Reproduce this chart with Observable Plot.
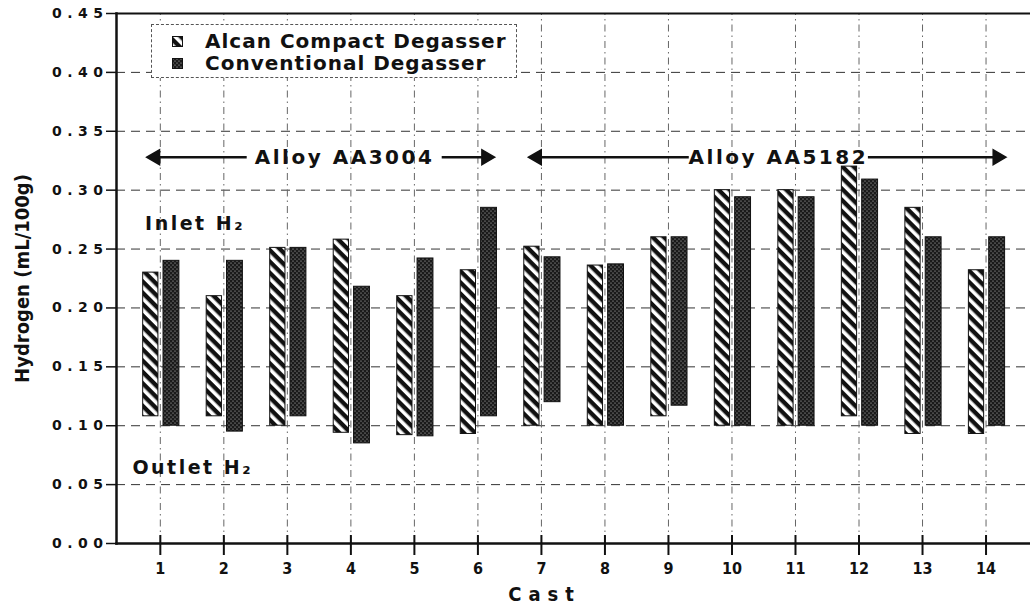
<!DOCTYPE html>
<html><head><meta charset="utf-8">
<script src="https://cdn.jsdelivr.net/npm/d3@7"></script>
<script src="https://cdn.jsdelivr.net/npm/@observablehq/plot@0.6"></script>
<style>
html,body{margin:0;padding:0;background:#fff;}
#wrap{position:relative;width:1030px;height:609px;overflow:hidden;}
#legend{position:absolute;left:151px;top:24px;width:366px;height:54px;background:#fff;border:1px dashed #555;box-sizing:border-box;padding:5px 0 0 20px;font-family:"DejaVu Sans",sans-serif;font-weight:bold;font-size:20px;letter-spacing:1px;color:#111;}
#legend .row{height:22px;line-height:22px;white-space:nowrap;display:flex;align-items:center;}
#legend svg{margin-right:22px;flex:none;}
.ytl text{letter-spacing:5.5px;}
.spaced text{letter-spacing:2.5px;}
.castlab text{letter-spacing:7px;}
</style>
</head><body>
<svg width="0" height="0" style="position:absolute"><defs>
<pattern id="stripes" patternUnits="userSpaceOnUse" width="8" height="8" patternTransform="rotate(45)">
<rect width="8" height="8" fill="#fff"/><rect width="8" height="4.4" fill="#111"/>
</pattern>
<pattern id="dots" patternUnits="userSpaceOnUse" width="4" height="4">
<rect width="4" height="4" fill="#1a1a1a"/><circle cx="1" cy="1" r="0.6" fill="#c8c8c8"/><circle cx="3" cy="3" r="0.6" fill="#c8c8c8"/>
</pattern>
</defs></svg>
<div id="wrap">
<div id="legend">
<div class="row"><svg width="11" height="11"><rect x="0.5" y="0.5" width="10" height="10" fill="url(#stripes)" stroke="#111"/></svg>Alcan Compact Degasser</div>
<div class="row"><svg width="11" height="11"><rect x="0.5" y="0.5" width="10" height="10" fill="url(#dots)" stroke="#111"/></svg>Conventional Degasser</div>
</div>
</div>
<script>
// ---- data ----
const casts = [1,2,3,4,5,6,7,8,9,10,11,12,13,14];
const alcanInlet  = [0.230,0.210,0.251,0.258,0.210,0.232,0.252,0.236,0.260,0.300,0.300,0.320,0.285,0.232];
const alcanOutlet = [0.108,0.108,0.100,0.094,0.092,0.093,0.100,0.100,0.108,0.100,0.100,0.108,0.093,0.093];
const convInlet   = [0.240,0.240,0.251,0.218,0.242,0.285,0.243,0.237,0.260,0.294,0.294,0.309,0.260,0.260];
const convOutlet  = [0.100,0.095,0.108,0.085,0.091,0.108,0.120,0.100,0.117,0.100,0.100,0.100,0.100,0.100];
const yTicks = [0,0.05,0.10,0.15,0.20,0.25,0.30,0.35,0.40,0.45];
const yGrid = [0.05,0.10,0.15,0.20,0.25,0.30,0.35,0.40];
const alloyNames = ["Alloy AA3004","Alloy AA5182"];
const alloyTextX = [3.90, 10.73];
const alloyLeftArrow = [[0.92, 2.36],[6.93, 9.32]];   // [tip, tail]
const alloyRightArrow = [[6.13, 5.43],[14.18, 12.14]]; // [tip, tail]
const alloyY = 0.328;
const sideLabels = [{t:"Inlet H₂", x:0.76, y:0.266},{t:"Outlet H₂", x:0.56, y:0.059}];

const alcan = casts.map((c,i)=>({cast:c, inlet:alcanInlet[i], outlet:alcanOutlet[i]}));
const conv  = casts.map((c,i)=>({cast:c, inlet:convInlet[i],  outlet:convOutlet[i]}));
const arrows = alloyNames.flatMap((n,i)=>[
  {tip:alloyLeftArrow[i][0], tail:alloyLeftArrow[i][1], dir:-90},
  {tip:alloyRightArrow[i][0], tail:alloyRightArrow[i][1], dir:90}
]);

const narrow = "'Liberation Sans Narrow','Arial Narrow','DejaVu Sans Condensed','Liberation Sans',sans-serif";
const frameH = 609 - 13 - 66;

const chart = Plot.plot({
  width: 1030, height: 609,
  marginLeft: 116, marginRight: 0, marginTop: 13, marginBottom: 66,
  x: {domain: [0.31, 14.7]},
  y: {domain: [0, 0.45]},
  style: {fontFamily: "'DejaVu Sans',sans-serif", color: "#111", background: "#fff", overflow: "visible"},
  marks: [
    Plot.ruleY(yGrid, {stroke: "#333", strokeWidth: 1, strokeDasharray: "9,6"}),
    Plot.ruleX(casts, {y1: 0, y2: 0.45, stroke: "#666", strokeWidth: 1, strokeDasharray: "7,4,1.5,4"}),
    Plot.rect(alcan, {x1: d => d.cast - 0.27, x2: d => d.cast - 0.03, y1: "outlet", y2: "inlet",
      fill: "url(#stripes)", stroke: "#111", strokeWidth: 1}),
    Plot.rect(conv, {x1: d => d.cast + 0.05, x2: d => d.cast + 0.30, y1: "outlet", y2: "inlet",
      fill: "url(#dots)", stroke: "#111", strokeWidth: 1}),
    Plot.frame({anchor: "top", stroke: "#111", strokeWidth: 2}),
    Plot.frame({anchor: "left", stroke: "#111", strokeWidth: 2.5}),
    Plot.frame({anchor: "bottom", stroke: "#111", strokeWidth: 2.5}),
    Plot.tickX(casts, {x: d => d, insetTop: frameH - 8, insetBottom: -12, stroke: "#111", strokeWidth: 2}),
    Plot.axisY({ticks: yTicks, tickFormat: d3.format(".2f"), tickSize: 10, tickPadding: -2, strokeWidth: 1.5,
      fontSize: 14, fontWeight: "bold", label: null, className: "ytl"}),
    Plot.axisX({ticks: casts, tickSize: 0, tickPadding: 19, fontSize: 16, fontWeight: "bold",
      fontFamily: narrow, label: null}),
    Plot.text(["Cast"], {x: 7.05, frameAnchor: "bottom", dy: 57, text: d => d, fontSize: 20, fontWeight: "bold",
      fontFamily: narrow, className: "castlab"}),
    Plot.text(["Hydrogen (mL/100g)"], {frameAnchor: "left", textAnchor: "middle", dx: -94, dy: 0, rotate: -90, text: d => d,
      fontSize: 20, fontWeight: "bold", fontFamily: narrow}),
    Plot.link(arrows, {x1: "tip", x2: "tail", y1: alloyY, y2: alloyY, stroke: "#111", strokeWidth: 2.5}),
    Plot.dot(arrows, {x: "tip", y: alloyY, symbol: "triangle", rotate: "dir", r: 5.5, fill: "#111", stroke: "#111"}),
    Plot.text(alloyNames, {x: (d,i) => alloyTextX[i], y: alloyY, text: d => d, fontSize: 20, fontWeight: "bold",
      className: "spaced"}),
    Plot.text(sideLabels, {x: "x", y: "y", text: "t", textAnchor: "start", lineAnchor: "bottom", fontSize: 19,
      fontWeight: "bold", className: "spaced"})
  ]
});
const wrap = document.getElementById("wrap");
wrap.insertBefore(chart, wrap.firstChild);
</script>
</body></html>
